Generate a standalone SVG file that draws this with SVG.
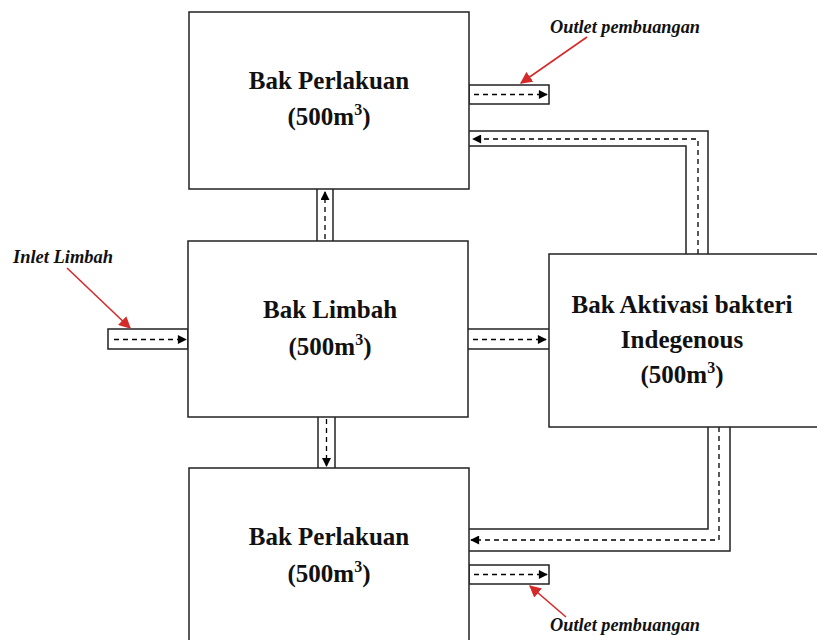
<svg xmlns="http://www.w3.org/2000/svg" width="817" height="640" viewBox="0 0 817 640">
<style>
.box{fill:#fff;stroke:#222;stroke-width:1.5}
.pipe{fill:none;stroke:#222;stroke-width:1.5}
.flow{fill:none;stroke:#000;stroke-width:1.3;stroke-dasharray:5,4}
.lbl{font-family:"Liberation Serif",serif;font-weight:bold;font-size:25px;fill:#111;text-anchor:middle}
.sup{font-size:16px}
.note{font-family:"Liberation Serif",serif;font-weight:bold;font-style:italic;font-size:18px;fill:#111}
.red{stroke:#d42a2a;stroke-width:1.6;fill:none}
</style>
<defs>
<marker id="ah" viewBox="0 0 10 10" refX="9" refY="5" markerWidth="10" markerHeight="9" markerUnits="userSpaceOnUse" orient="auto"><path d="M0,0 L10,5 L0,10 Z" fill="#000"/></marker>
<marker id="rh" viewBox="0 0 10 10" refX="9" refY="5" markerWidth="12" markerHeight="12" markerUnits="userSpaceOnUse" orient="auto"><path d="M0,0 L10,5 L0,10 Z" fill="#d42a2a"/></marker>
</defs>
<rect width="817" height="640" fill="#fff"/>
<g id="connectors">
<rect class="pipe" x="108" y="329" width="80" height="20"/>
<line class="flow" x1="114" y1="339.5" x2="186" y2="339.5" marker-end="url(#ah)"/>
<line class="pipe" x1="468" y1="329" x2="549" y2="329"/>
<line class="pipe" x1="468" y1="349" x2="549" y2="349"/>
<line class="flow" x1="473" y1="339.5" x2="546" y2="339.5" marker-end="url(#ah)"/>
<line class="pipe" x1="317" y1="189" x2="317" y2="241"/>
<line class="pipe" x1="333" y1="189" x2="333" y2="241"/>
<line class="flow" x1="325" y1="239" x2="325" y2="192" marker-end="url(#ah)"/>
<line class="pipe" x1="318" y1="417" x2="318" y2="468"/>
<line class="pipe" x1="335" y1="417" x2="335" y2="468"/>
<line class="flow" x1="326.5" y1="419" x2="326.5" y2="466" marker-end="url(#ah)"/>
<rect class="pipe" x="469" y="85" width="80" height="19"/>
<line class="flow" x1="474" y1="94.5" x2="547" y2="94.5" marker-end="url(#ah)"/>
<polyline class="pipe" points="469,131 708,131 708,254"/>
<polyline class="pipe" points="469,146 686,146 686,254"/>
<polyline class="flow" points="698,254 698,139 473,139" marker-end="url(#ah)"/>
<polyline class="pipe" points="708,427 708,529 469,529"/>
<polyline class="pipe" points="730,427 730,551 469,551"/>
<polyline class="flow" points="719,427 719,540 471,540" marker-end="url(#ah)"/>
<rect class="pipe" x="469" y="565" width="80" height="19"/>
<line class="flow" x1="474" y1="574.5" x2="547" y2="574.5" marker-end="url(#ah)"/>
<line class="red" x1="587" y1="37" x2="521" y2="83" marker-end="url(#rh)"/>
<line class="red" x1="67" y1="268" x2="130" y2="328" marker-end="url(#rh)"/>
<line class="red" x1="566" y1="617" x2="530" y2="586" marker-end="url(#rh)"/>
</g>
<g id="top-treatment">
<rect class="box" x="189" y="12" width="280" height="177"/>
<text class="lbl" x="329" y="89">Bak Perlakuan</text>
<text class="lbl" x="329" y="125">(500m<tspan class="sup" dy="-10">3</tspan><tspan dy="10">)</tspan></text>
</g>
<g id="waste-tank">
<rect class="box" x="188" y="241" width="280" height="176"/>
<text class="lbl" x="330" y="318">Bak Limbah</text>
<text class="lbl" x="330" y="355">(500m<tspan class="sup" dy="-10">3</tspan><tspan dy="10">)</tspan></text>
</g>
<g id="activation-tank">
<rect class="box" x="549" y="254" width="270" height="173"/>
<text class="lbl" x="682" y="313">Bak Aktivasi bakteri</text>
<text class="lbl" x="682" y="348">Indegenous</text>
<text class="lbl" x="682" y="383">(500m<tspan class="sup" dy="-10">3</tspan><tspan dy="10">)</tspan></text>
</g>
<g id="bottom-treatment">
<rect class="box" x="189" y="468" width="280" height="180"/>
<text class="lbl" x="329" y="545">Bak Perlakuan</text>
<text class="lbl" x="329" y="582">(500m<tspan class="sup" dy="-10">3</tspan><tspan dy="10">)</tspan></text>
</g>
<g id="labels">
<text class="note" x="550" y="33" textLength="150" lengthAdjust="spacingAndGlyphs">Outlet pembuangan</text>
<text class="note" x="13" y="263" textLength="100" lengthAdjust="spacingAndGlyphs">Inlet Limbah</text>
<text class="note" x="550" y="631" textLength="150" lengthAdjust="spacingAndGlyphs">Outlet pembuangan</text>
</g>
</svg>
